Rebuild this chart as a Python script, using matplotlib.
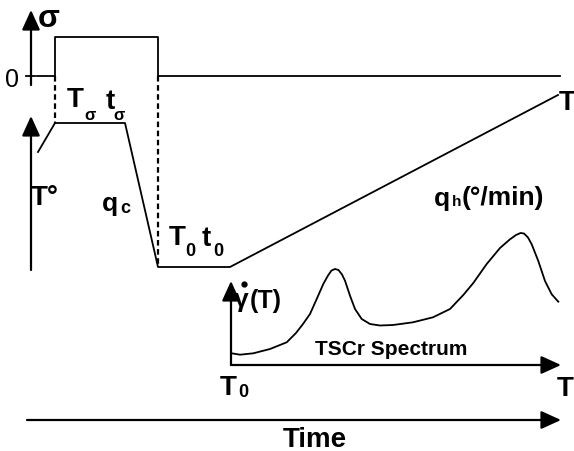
import matplotlib
matplotlib.use("Agg")
import matplotlib.pyplot as plt

# Diagram frame is the picture itself: x to the right, y downward (pixels).
# Stress program sigma(t)
stress_x = [37, 55, 55, 158, 158, 560]
stress_y = [77, 77, 38, 38, 77, 77]

# Temperature program T(t): heat, hold (T_sigma, t_sigma), quench q_c,
# hold (T_0, t_0), then linear heating q_h
temp_x = [38, 55, 125, 158, 230, 558]
temp_y = [153, 124, 124, 268, 268, 96]

# Dashed guides linking stress steps to the temperature program
guide_x = [55, 158]
guide_top = [77, 77]
guide_bottom = [124, 268]

# TSCr spectrum, strain rate vs temperature
spec_x = [231.7, 240, 253.3, 270, 286.7, 296, 303, 310, 316.7, 323.3, 328,
          331.5, 335, 338.5, 342, 345, 350, 355, 361.7, 370, 380, 393, 413,
          433, 450, 463.3, 473.3, 486.7, 500, 510, 516, 520.5, 524, 528,
          531.7, 538.3, 545, 551.7, 558.3]
spec_y = [354.3, 355.7, 354.3, 350, 343.3, 334, 325, 315, 300, 285, 276.5,
          271.5, 270, 271, 275.5, 281.7, 296.7, 310, 320, 325, 326.5, 326,
          323.3, 318.3, 310, 296, 284, 265, 249, 240.3, 236, 234, 234.5,
          238.5, 245.3, 262, 282, 295.3, 302.7]

# axes arrows: (tail, tip)
arrows = [
    ((31, 86), (31, 11)),      # sigma axis
    ((31, 271), (31, 117)),    # temperature axis
    ((231, 366), (231, 282)),  # gamma-dot axis
    ((231, 366), (561, 366)),  # spectrum temperature axis
    ((27, 421), (561, 421)),   # time axis
]

BOLD = dict(family=["Liberation Sans", "DejaVu Sans"], fontweight="bold",
            color="black")

fig = plt.figure(figsize=(5.74, 4.52), dpi=100)
ax = fig.add_axes([0, 0, 1, 1])
ax.set_xlim(0, 574)
ax.set_ylim(452, 0)
ax.axis("off")

for tail, tip in arrows:
    ax.annotate("", xy=tip, xytext=tail,
                arrowprops=dict(arrowstyle="-|>,head_length=0.55,head_width=0.25",
                                lw=1.6, color="black", shrinkA=0, shrinkB=0,
                                mutation_scale=22))

ax.plot([26, 35], [77, 77], color="black", lw=1.3)
ax.plot(stress_x, stress_y, color="black", lw=1.3)
ax.plot(temp_x, temp_y, color="black", lw=1.3)
for gx, gt, gb in zip(guide_x, guide_top, guide_bottom):
    ax.plot([gx, gx], [gt, gb], color="black", lw=1.6,
            linestyle=(0, (2.5, 1.6)))
ax.plot(spec_x, spec_y, color="black", lw=1.3, solid_joinstyle="round")

# labels
ax.text(49, 19, "σ", fontsize=23, ha="center", va="center", **BOLD)
ax.text(12, 80, "0", fontsize=18, ha="center", va="center",
        family=["Liberation Sans"], color="black")

ax.text(75, 100, "T", fontsize=20, ha="center", va="center", **BOLD)
ax.text(90, 116, "σ", fontsize=12, ha="center", va="center", **BOLD)
ax.text(110, 102, "t", fontsize=20, ha="center", va="center", **BOLD)
ax.text(119, 116, "σ", fontsize=12, ha="center", va="center", **BOLD)

ax.text(45, 198, "T°", fontsize=20, ha="center", va="center", **BOLD)
ax.text(110, 204, "q", fontsize=19, ha="center", va="center", **BOLD)
ax.text(125, 209, "c", fontsize=13, ha="center", va="center", **BOLD)

ax.text(177, 238, "T", fontsize=20, ha="center", va="center", **BOLD)
ax.text(190, 252, "0", fontsize=13, ha="center", va="center", **BOLD)
ax.text(206, 239, "t", fontsize=20, ha="center", va="center", **BOLD)
ax.text(218, 252, "0", fontsize=13, ha="center", va="center", **BOLD)

ax.text(442, 199, "q", fontsize=19, ha="center", va="center", **BOLD)
ax.text(457, 202, "h", fontsize=11, ha="center", va="center", **BOLD)
ax.text(462, 198, "(°/min)", fontsize=19, ha="left", va="center", **BOLD)

ax.text(567, 103, "T", fontsize=20, ha="center", va="center", **BOLD)

ax.text(241, 300, "γ", fontsize=19, ha="center", va="center", **BOLD)
ax.plot([244], [285], marker="o", markersize=3.5, color="black")
ax.text(250, 301, "(T)", fontsize=18, ha="left", va="center", **BOLD)
ax.text(391, 350, "TSCr Spectrum", fontsize=15, ha="center", va="center",
        **BOLD)

ax.text(228, 388, "T", fontsize=20, ha="center", va="center", **BOLD)
ax.text(243, 393, "0", fontsize=13, ha="center", va="center", **BOLD)
ax.text(565, 389, "T", fontsize=20, ha="center", va="center", **BOLD)

ax.text(315, 440, "Time", fontsize=20, ha="center", va="center", **BOLD)

fig.savefig("out.png", dpi=100)
